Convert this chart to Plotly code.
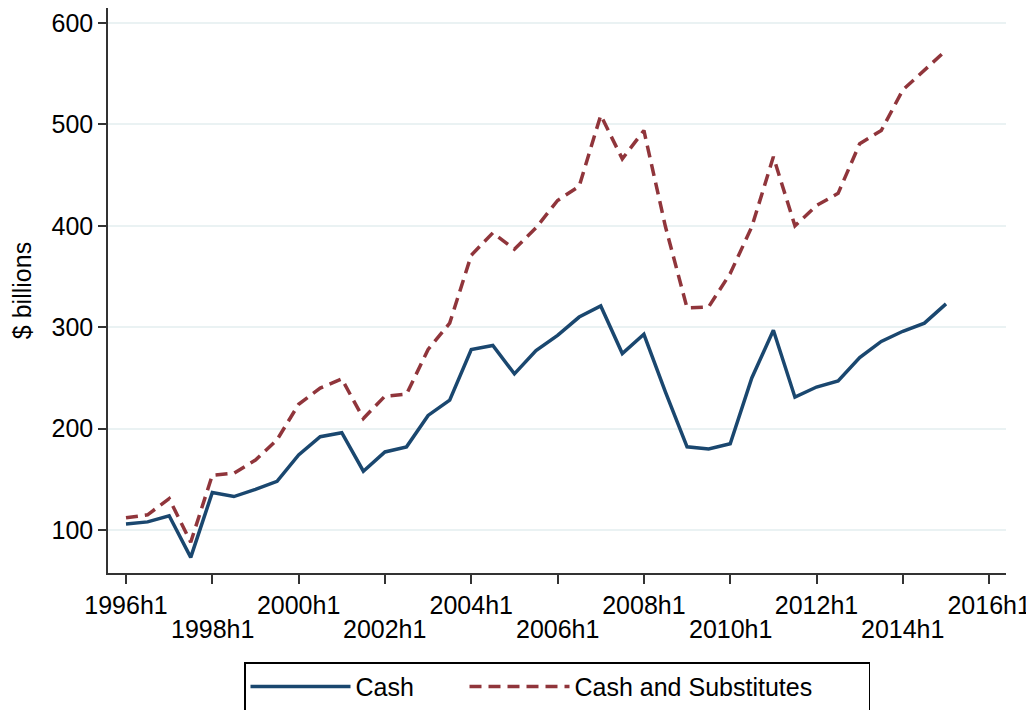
import plotly.graph_objects as go

# Half-year periods 1996h1 .. 2015h1
periods = ["1996h1", "1996h2", "1997h1", "1997h2", "1998h1", "1998h2", "1999h1", "1999h2",
           "2000h1", "2000h2", "2001h1", "2001h2", "2002h1", "2002h2", "2003h1", "2003h2",
           "2004h1", "2004h2", "2005h1", "2005h2", "2006h1", "2006h2", "2007h1", "2007h2",
           "2008h1", "2008h2", "2009h1", "2009h2", "2010h1", "2010h2", "2011h1", "2011h2",
           "2012h1", "2012h2", "2013h1", "2013h2", "2014h1", "2014h2", "2015h1"]

cash = [106, 108, 114, 73, 137, 133, 140, 148,
        174, 192, 196, 158, 177, 182, 213, 228,
        278, 282, 254, 277, 292, 310, 321, 274,
        293, 236, 182, 180, 185, 250, 297, 231,
        241, 247, 270, 286, 296, 304, 323]

cash_subs = [112, 115, 131, 88, 154, 156, 169, 189,
             224, 240, 249, 210, 232, 234, 278, 304,
             371, 393, 377, 398, 425, 439, 509, 466,
             494, 399, 319, 320, 353, 399, 468, 400,
             420, 432, 481, 494, 534, 554, 573]

tick_labels = ["1996h1", "1998h1", "2000h1", "2002h1", "2004h1", "2006h1",
               "2008h1", "2010h1", "2012h1", "2014h1", "2016h1"]
y_ticks = [100, 200, 300, 400, 500, 600]


def to_num(p):
    return int(p[:4]) + (int(p[-1]) - 1) * 0.5


x = [to_num(p) for p in periods]
tickvals = [to_num(t) for t in tick_labels]
row1_text = [t if i % 2 == 0 else "" for i, t in enumerate(tick_labels)]
row2 = [(tickvals[i], t) for i, t in enumerate(tick_labels) if i % 2 == 1]

FONT = "Liberation Sans, Arial, Helvetica, sans-serif"
XRANGE = [1995.583, 2016.39]

fig = go.Figure()
fig.add_trace(go.Scatter(x=x, y=cash, mode="lines", name="Cash", legendwidth=104,
                         line=dict(color="#1A476F", width=3.5)))
fig.add_trace(go.Scatter(x=x, y=cash_subs, mode="lines", name="Cash and Substitutes",
                         legendwidth=289,
                         line=dict(color="#90353B", width=3.5, dash="12px,7px")))

# second (staggered) row of x tick labels
for xv, txt in row2:
    fig.add_annotation(x=xv, xref="x", y=0, yref="paper", yanchor="top", xanchor="center",
                       yshift=-40, text=txt, showarrow=False,
                       font=dict(size=25, family=FONT, color="black"))

fig.update_layout(
    width=1034, height=710,
    paper_bgcolor="white", plot_bgcolor="white",
    margin=dict(l=100, r=36, t=0, b=145),
    font=dict(family=FONT, size=25, color="black"),
    showlegend=True,
    legend=dict(orientation="h", x=0.5, xanchor="center", y=-0.158, yanchor="top",
                bordercolor="black", borderwidth=1.5, font=dict(size=25),
                itemwidth=100),
    xaxis=dict(
        range=XRANGE, tickvals=tickvals, ticktext=row1_text,
        ticks="outside", ticklen=9, tickwidth=1.5, tickcolor="#333",
        showline=True, linecolor="#333", linewidth=1.5,
        showgrid=False, zeroline=False, tickfont=dict(size=25),
    ),
    yaxis=dict(
        range=[57.6, 614.8], tickvals=y_ticks,
        ticks="outside", ticklen=8, tickwidth=1.5, tickcolor="#333",
        showline=True, linecolor="#333", linewidth=1.5,
        showgrid=True, gridcolor="#EAF2F3", gridwidth=1.5, zeroline=False,
        title=dict(text="$ billions", font=dict(size=25), standoff=16),
        tickfont=dict(size=25),
    ),
)

fig.write_html("out.html")
